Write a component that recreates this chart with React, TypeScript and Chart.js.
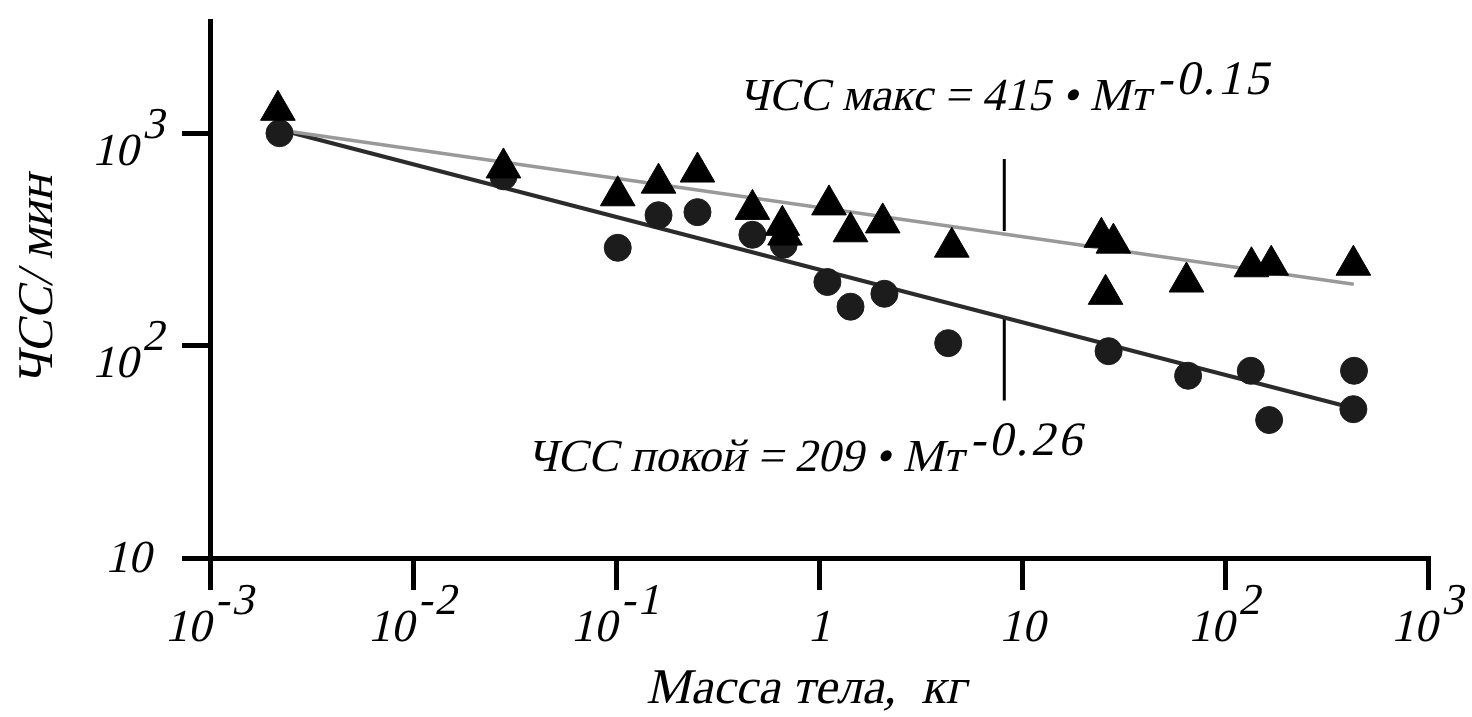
import { useEffect, useRef } from 'react';
import { Chart, registerables } from 'chart.js';

Chart.register(...registerables);

// Body mass (kg) and heart rate (beats/min) — maximal HR (triangles)
const massMax = [0.00216, 0.0279, 0.102, 0.162, 0.252, 0.47, 0.66, 0.68, 1.12, 1.43, 2.06, 4.51, 24.6, 28.2, 25.8, 64.6, 135, 169, 429];
const hrMax = [1290, 690, 510, 585, 660, 440, 370, 333, 462, 345, 380, 292, 325, 305, 175, 200, 236, 240, 240];

// Resting HR (circles)
const massRest = [0.0022, 0.0279, 0.102, 0.162, 0.252, 0.47, 0.67, 1.1, 1.43, 2.1, 4.33, 26.7, 65.8, 134, 165, 432, 429];
const hrRest = [1006, 630, 290, 413, 427, 334, 300, 200, 153, 176, 103, 94.4, 72.3, 76.3, 44.7, 76.3, 50.3];

// Fitted lines (end points as drawn)
const fitMass = [0.00229, 431];
const fitMax = [1036, 195];
const fitRest = [1036, 50.8];

// Pointer strokes from the equations to the lines
const pointerMass = [8.18, 8.18];
const pointerMax = [760, 348];
const pointerRest = [134, 55.3];

// Axis ticks
const xTickValues = [0.001, 0.01, 0.1, 1, 10, 100, 1000];
const xTickBase = ['10', '10', '10', '1', '10', '10', '10'];
const xTickExp = ['-3', '-2', '-1', '', '', '2', '3'];
const yTickValues = [10, 100, 1000];
const yTickBase = ['10', '10', '10'];
const yTickExp = ['', '2', '3'];

// Equation labels
const eqBase = ['ЧСС макс = 415 • Мт', 'ЧСС покой = 209 • Мт'];
const eqExp = ['-0.15', '-0.26'];
const eqMass = [0.403, 0.0366];
const eqHr = [1290, 25.6];

const xTitle = 'Масса тела,  кг';
const yTitle = 'ЧСС/ мин';

const FAMILY = '"Liberation Serif", "DejaVu Serif", serif';
const SKEW = -0.22;

const zip = (xs: number[], ys: number[]) => xs.map((x, i) => ({ x, y: ys[i] }));

function oblique(ctx: CanvasRenderingContext2D, text: string, x: number, y: number, font: string, spacing = 0) {
  ctx.save();
  ctx.font = font;
  (ctx as any).letterSpacing = `${spacing}px`;
  ctx.translate(x, y);
  ctx.transform(1, 0, SKEW, 1, 0, 0);
  ctx.fillText(text, 0, 0);
  ctx.restore();
}

function width(ctx: CanvasRenderingContext2D, text: string, font: string, spacing = 0) {
  ctx.save();
  ctx.font = font;
  (ctx as any).letterSpacing = `${spacing}px`;
  const w = ctx.measureText(text).width;
  ctx.restore();
  return w;
}

const labelsPlugin = {
  id: 'customLabels',
  afterDraw(chart: any) {
    const ctx = chart.ctx as CanvasRenderingContext2D;
    const xs = chart.scales.x;
    const ys = chart.scales.y;
    ctx.save();
    ctx.fillStyle = '#000';
    ctx.textBaseline = 'alphabetic';
    ctx.textAlign = 'left';
    const baseFont = `46px ${FAMILY}`;
    const expFont = `44px ${FAMILY}`;
    const expSp = 2;

    // x tick labels
    const axisY = ys.getPixelForValue(10);
    xTickValues.forEach((v, i) => {
      const px = xs.getPixelForValue(v);
      const wb = width(ctx, xTickBase[i], baseFont);
      const we = xTickExp[i] ? width(ctx, xTickExp[i], expFont, expSp) + 4 : 0;
      const start = px - (wb + we) / 2;
      oblique(ctx, xTickBase[i], start, axisY + 83, baseFont);
      if (xTickExp[i]) oblique(ctx, xTickExp[i], start + wb + 4, axisY + 56, expFont, expSp);
    });

    // y tick labels
    yTickValues.forEach((v, i) => {
      const py = ys.getPixelForValue(v);
      const wb = width(ctx, yTickBase[i], baseFont);
      const we = yTickExp[i] ? width(ctx, yTickExp[i], expFont) + 4 : 0;
      const start = 128 - (wb + we) / 2;
      if (yTickExp[i]) {
        oblique(ctx, yTickBase[i], start, py + 31, baseFont);
        oblique(ctx, yTickExp[i], start + wb + 4, py + 4, expFont);
      } else {
        oblique(ctx, yTickBase[i], start, py + 14, baseFont);
      }
    });

    // equations
    eqBase.forEach((t, i) => {
      const px = xs.getPixelForValue(eqMass[i]);
      const py = ys.getPixelForValue(eqHr[i]);
      const f1 = `46px ${FAMILY}`;
      const f2 = `48px ${FAMILY}`;
      const wb = width(ctx, t, f1);
      oblique(ctx, t, px, py, f1);
      oblique(ctx, eqExp[i], px + wb + 6, py - 16, f2, 3);
    });

    // axis titles
    const tf = `50px ${FAMILY}`;
    const wx = width(ctx, xTitle, tf);
    oblique(ctx, xTitle, 806 - wx / 2, 703, tf);
    const wy = width(ctx, yTitle, tf);
    ctx.save();
    ctx.translate(52, 280);
    ctx.rotate(-Math.PI / 2);
    oblique(ctx, yTitle, -wy / 2, 0, tf);
    ctx.restore();
    ctx.restore();
  },
};

export default function App() {
  const ref = useRef<HTMLCanvasElement | null>(null);

  useEffect(() => {
    if (!ref.current) return;
    const chart = new Chart(ref.current, {
      type: 'scatter',
      data: {
        datasets: [
          {
            label: 'ЧСС макс',
            data: zip(massMax, hrMax),
            pointStyle: 'triangle',
            pointRadius: 20,
            backgroundColor: '#000',
            borderColor: '#000',
            borderWidth: 1,
          },
          {
            label: 'ЧСС покой',
            data: zip(massRest, hrRest),
            pointStyle: 'circle',
            pointRadius: 13.5,
            backgroundColor: '#1c1c1c',
            borderColor: '#1c1c1c',
            borderWidth: 1,
          },
          {
            type: 'line',
            label: 'fit max',
            data: zip(fitMass, fitMax),
            borderColor: '#999999',
            borderWidth: 3.5,
            pointRadius: 0,
            showLine: true,
          },
          {
            type: 'line',
            label: 'fit rest',
            data: zip(fitMass, fitRest),
            borderColor: '#2b2b2b',
            borderWidth: 4,
            pointRadius: 0,
            showLine: true,
          },
          {
            type: 'line',
            label: 'pointer max',
            data: zip(pointerMass, pointerMax),
            borderColor: '#000',
            borderWidth: 3,
            pointRadius: 0,
            showLine: true,
          },
          {
            type: 'line',
            label: 'pointer rest',
            data: zip(pointerMass, pointerRest),
            borderColor: '#000',
            borderWidth: 3,
            pointRadius: 0,
            showLine: true,
          },
        ] as any,
      },
      options: {
        animation: false,
        responsive: true,
        maintainAspectRatio: false,
        layout: { padding: { left: 182, right: 44, top: 13, bottom: 127 } },
        plugins: { legend: { display: false }, tooltip: { enabled: false } },
        scales: {
          x: {
            type: 'logarithmic',
            min: 0.001,
            max: 1000,
            position: 'bottom',
            border: { display: true, color: '#000', width: 5 },
            grid: { display: true, drawOnChartArea: false, drawTicks: true, tickLength: 32, lineWidth: 5, color: '#000' },
            ticks: { display: false },
            afterBuildTicks: (axis: any) => {
              axis.ticks = xTickValues.map((v) => ({ value: v }));
            },
          },
          y: {
            type: 'logarithmic',
            min: 10,
            max: 3400,
            position: 'left',
            border: { display: true, color: '#000', width: 5 },
            grid: { display: true, drawOnChartArea: false, drawTicks: true, tickLength: 28, lineWidth: 5, color: '#000' },
            ticks: { display: false },
            afterBuildTicks: (axis: any) => {
              axis.ticks = yTickValues.map((v) => ({ value: v }));
            },
          },
        },
      } as any,
      plugins: [labelsPlugin],
    });
    return () => chart.destroy();
  }, []);

  return (
    <div style={{ position: 'fixed', left: 0, top: 0, width: 1472, height: 717, background: '#fff' }}>
      <canvas ref={ref} />
    </div>
  );
}
